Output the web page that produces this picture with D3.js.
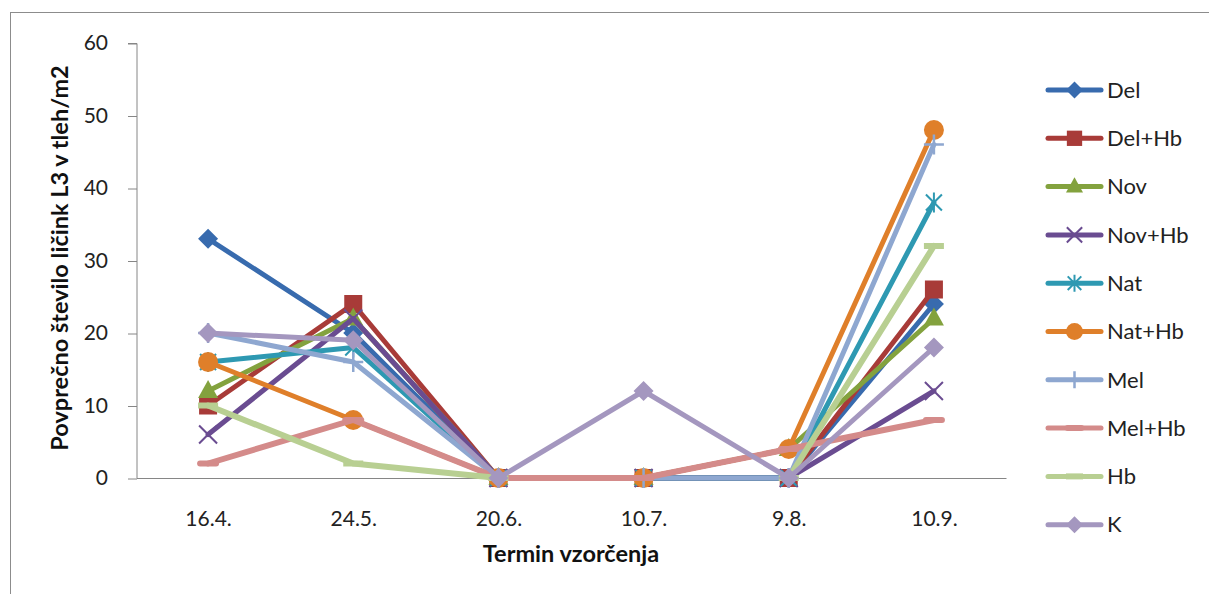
<!DOCTYPE html>
<html>
<head>
<meta charset="utf-8">
<script src="https://cdn.jsdelivr.net/npm/d3@7"></script>
<style>
  html, body { margin: 0; padding: 0; background: #fff; }
  svg { display: block; font-family: Lato, "Open Sans", sans-serif; }
</style>
</head>
<body>
<svg id="chart" width="1209" height="594"></svg>
<script>
// Sampling dates and the y-axis ticks
const categories = ["16.4.", "24.5.", "20.6.", "10.7.", "9.8.", "10.9."];
const yTicks = [0, 10, 20, 30, 40, 50, 60];

// Mean number of L3 larvae per m2 of soil, one array per treatment (null = no sample)
const del   = [33, 20, 0, 0, 0, 24];
const delHb = [10, 24, 0, 0, 0, 26];
const nov   = [12, 22, 0, 0, 4, 22];
const novHb = [6, 22, 0, 0, 0, 12];
const nat   = [16, 18, 0, 0, 0, 38];
const natHb = [16, 8, 0, 0, 4, 48];
const mel   = [20, 16, 0, 0, 0, 46];
const melHb = [2, 8, 0, 0, 4, 8];
const hb    = [10, 2, 0, null, 0, 32];
const k     = [20, 19, 0, 12, 0, 18];

const seriesNames = ["Del", "Del+Hb", "Nov", "Nov+Hb", "Nat", "Nat+Hb", "Mel", "Mel+Hb", "Hb", "K"];
const seriesValues = [del, delHb, nov, novHb, nat, natHb, mel, melHb, hb, k];

// Appearance of each treatment's line and marker
const styles = [
  { color: "#386BAE", marker: "diamond", width: 5 },
  { color: "#A83B38", marker: "square", width: 5 },
  { color: "#83A23E", marker: "triangle", width: 5 },
  { color: "#6A4C91", marker: "x", width: 5 },
  { color: "#2E99B2", marker: "asterisk", width: 5 },
  { color: "#DF7F2A", marker: "circle", width: 5 },
  { color: "#8EA7D0", marker: "plus", width: 5 },
  { color: "#D48B8A", marker: "shortdash", width: 6 },
  { color: "#B8CF92", marker: "dash", width: 6 },
  { color: "#A497BF", marker: "diamond", width: 5 }
];

const svg = d3.select("#chart");

// Outer chart frame
svg.append("rect")
  .attr("x", 10.5).attr("y", 12.5)
  .attr("width", 1300).attr("height", 700)
  .attr("fill", "none").attr("stroke", "#8c8c8c").attr("stroke-width", 1);

const plot = { left: 135.5, right: 1006.5, top: 43, bottom: 478 };

const x = d3.scalePoint()
  .domain(categories)
  .range([plot.left, plot.right])
  .padding(0.5);

const y = d3.scaleLinear()
  .domain([0, 60])
  .range([plot.bottom, plot.top]);

// Y axis
const yAxis = d3.axisLeft(y)
  .tickValues(yTicks)
  .tickSize(9)
  .tickPadding(20);

const yg = svg.append("g")
  .attr("transform", `translate(${plot.left + 1.5},0)`)
  .call(yAxis);
yg.select(".domain").attr("stroke", "#868686").attr("d", `M-9,${y(60) + 0.5}H0V${y(0) + 0.5}`);
yg.selectAll(".tick line").attr("stroke", "#868686").attr("transform", "translate(0,0.5)");
yg.selectAll(".tick text")
  .attr("font-size", 21).attr("fill", "#222")
  .attr("font-family", "Lato, sans-serif");

// X axis
const xAxis = d3.axisBottom(x).tickSize(0).tickPadding(33);
const xg = svg.append("g")
  .attr("transform", `translate(0,${plot.bottom + 0.5})`)
  .call(xAxis);
xg.select(".domain").attr("stroke", "#868686").attr("d", `M${plot.left + 1.5},0H${plot.right}`);
xg.selectAll(".tick text")
  .attr("font-size", 21).attr("fill", "#222")
  .attr("font-family", "Lato, sans-serif");

// Axis titles
svg.append("text")
  .attr("transform", `translate(68,258) rotate(-90)`)
  .attr("text-anchor", "middle")
  .attr("font-size", 23.5).attr("font-weight", "bold").attr("fill", "#111")
  .text("Povprečno število ličink L3 v tleh/m2");

svg.append("text")
  .attr("x", 571).attr("y", 562)
  .attr("text-anchor", "middle")
  .attr("font-size", 23.5).attr("font-weight", "bold").attr("fill", "#111")
  .text("Termin vzorčenja");

// Marker drawing
function drawMarker(g, type, color, s) {
  s = s || 1;
  switch (type) {
    case "diamond":
      g.append("path").attr("d", `M0,${-10*s}L${10*s},0L0,${10*s}L${-10*s},0Z`).attr("fill", color);
      break;
    case "square":
      g.append("rect").attr("x", -9*s).attr("y", -9*s).attr("width", 18*s).attr("height", 18*s).attr("fill", color);
      break;
    case "triangle":
      g.append("path").attr("d", `M0,${-11*s}L${10*s},${7*s}L${-10*s},${7*s}Z`).attr("fill", color);
      break;
    case "circle":
      g.append("circle").attr("r", 10*s).attr("fill", color);
      break;
    case "x":
      g.append("path").attr("d", `M${-9*s},${-9*s}L${9*s},${9*s}M${9*s},${-9*s}L${-9*s},${9*s}`)
        .attr("stroke", color).attr("stroke-width", 2).attr("fill", "none");
      break;
    case "asterisk":
      g.append("path").attr("d", `M${-8*s},${-8*s}L${8*s},${8*s}M${8*s},${-8*s}L${-8*s},${8*s}M0,${-10*s}V${10*s}`)
        .attr("stroke", color).attr("stroke-width", 2).attr("fill", "none");
      break;
    case "plus":
      g.append("path").attr("d", `M${-10*s},0H${10*s}M0,${-10*s}V${10*s}`)
        .attr("stroke", color).attr("stroke-width", 2.5).attr("fill", "none");
      break;
    case "dash":
      g.append("path").attr("d", `M${-10*s},0H${10*s}`)
        .attr("stroke", color).attr("stroke-width", 6).attr("fill", "none");
      break;
    case "shortdash":
      g.append("path").attr("d", `M${-8*s},0H${8*s}`)
        .attr("stroke", color).attr("stroke-width", 6).attr("stroke-linecap", "round").attr("fill", "none");
      break;
  }
}

// Series lines and markers; missing samples break the line
const line = d3.line()
  .defined(d => d != null)
  .x((d, i) => x(categories[i]))
  .y(d => y(d));

const seriesG = svg.append("g");
seriesValues.forEach((vals, si) => {
  const st = styles[si];
  const g = seriesG.append("g").attr("class", "series");
  g.append("path")
    .attr("d", line(vals))
    .attr("fill", "none")
    .attr("stroke", st.color)
    .attr("stroke-width", st.width)
    .attr("stroke-linejoin", "round")
    .attr("stroke-linecap", "round");
  vals.forEach((v, i) => {
    if (v == null) return;
    const mg = g.append("g").attr("transform", `translate(${x(categories[i])},${y(v)})`);
    drawMarker(mg, st.marker, st.color, 1);
  });
});

// Legend
const legend = svg.append("g");
seriesNames.forEach((name, i) => {
  const st = styles[i];
  const ly = 90 + i * 48.3;
  const lg = legend.append("g").attr("transform", `translate(0,${ly})`);
  lg.append("path")
    .attr("d", "M1048,0H1101")
    .attr("stroke", st.color).attr("stroke-width", 5).attr("stroke-linecap", "round");
  const mg = lg.append("g").attr("transform", "translate(1074.5,0)");
  drawMarker(mg, st.marker, st.color, 0.85);
  lg.append("text")
    .attr("x", 1107).attr("y", 0).attr("dy", "0.35em")
    .attr("font-size", 22).attr("fill", "#222")
    .text(name);
});
</script>
</body>
</html>
